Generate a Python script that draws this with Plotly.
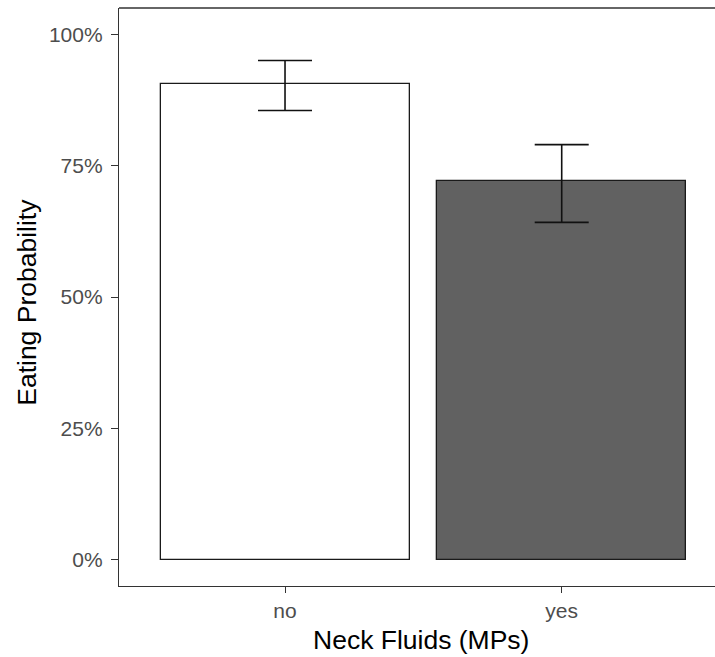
import plotly.graph_objects as go

# Eating probability by neck-fluid group, with error bar limits
groups = ["no", "yes"]
prob = [0.905, 0.720]
err_hi = [0.950, 0.790]
err_lo = [0.855, 0.642]
bar_colors = ["#FFFFFF", "#616161"]

y_ticks = [0, 0.25, 0.5, 0.75, 1.0]
y_tick_text = ["0%", "25%", "50%", "75%", "100%"]

xpos = [1, 2]

fig = go.Figure()
fig.add_trace(go.Bar(
    x=xpos, y=prob, width=0.9,
    marker=dict(color=bar_colors, line=dict(color="#1a1a1a", width=1.3)),
    error_y=dict(
        type="data", symmetric=False,
        array=[h - p for h, p in zip(err_hi, prob)],
        arrayminus=[p - l for p, l in zip(prob, err_lo)],
        color="#111111", thickness=1.6, width=27,
    ),
    showlegend=False,
))

axis_font = dict(family="Liberation Sans, Arial, sans-serif", size=21, color="#4D4D4D")
title_font = dict(family="Liberation Sans, Arial, sans-serif", size=26.5, color="#000000")

fig.update_layout(
    width=715, height=657,
    margin=dict(l=119, r=0, t=8, b=71),
    plot_bgcolor="white", paper_bgcolor="white",
    bargap=0,
    xaxis=dict(
        range=[0.4, 2.554], tickvals=xpos, ticktext=groups,
        showline=True, linecolor="#333333", linewidth=1.3, mirror=False,
        ticks="outside", ticklen=6, tickcolor="#333333", tickwidth=1.3,
        tickfont=axis_font, showgrid=False, zeroline=False,
    ),
    yaxis=dict(
        range=[-0.05, 1.05], tickvals=y_ticks, ticktext=y_tick_text,
        showline=True, linecolor="#333333", linewidth=1.3,
        ticks="outside", ticklen=7, tickcolor="#333333", tickwidth=1.3,
        tickfont=axis_font, showgrid=False, zeroline=False,
        ticklabelstandoff=4,
    ),
    shapes=[dict(type="line", xref="paper", yref="paper", x0=0, x1=1, y0=1, y1=1,
                 line=dict(color="#333333", width=1.3))],
    annotations=[
        dict(text="Neck Fluids (MPs)", xref="paper", yref="paper",
             x=0.507, y=0, yshift=-54, xanchor="center", yanchor="middle",
             showarrow=False, font=title_font),
        dict(text="Eating Probability", xref="paper", yref="paper",
             x=0, xshift=-92, y=0.49, xanchor="center", yanchor="middle",
             textangle=-90, showarrow=False, font=title_font),
    ],
)

fig.write_html("out.html")
